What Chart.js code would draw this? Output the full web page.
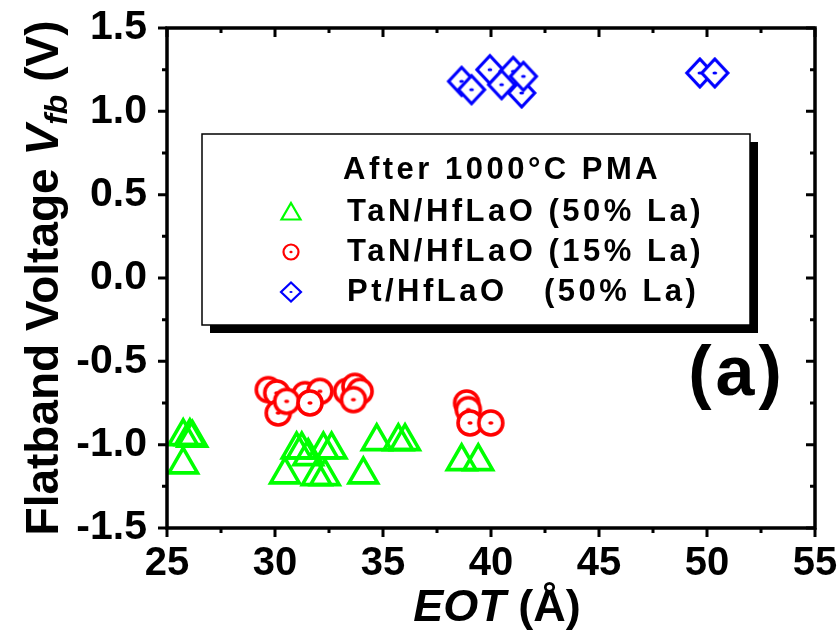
<!DOCTYPE html>
<html><head><meta charset="utf-8">
<script src="https://cdn.jsdelivr.net/npm/chart.js@4/dist/chart.umd.min.js"></script>
<style>html,body{margin:0;padding:0;background:#fff;}#wrap{width:840px;height:635px;}</style>
</head><body><div id="wrap"><canvas id="c" width="840" height="635"></canvas></div>
<script>
// ---- data ----
const xTicks = [25, 30, 35, 40, 45, 50, 55];
const xMinorTicks = [27.5, 32.5, 37.5, 42.5, 47.5, 52.5];
const yTicks = [-1.5, -1.0, -0.5, 0.0, 0.5, 1.0, 1.5];
const yMinorTicks = [-1.25, -0.75, -0.25, 0.25, 0.75, 1.25];
const legendTitle = "After 1000\u00B0C PMA";
const seriesLabels = ["TaN/HfLaO (50% La)", "TaN/HfLaO (15% La)", "Pt/HfLaO   (50% La)"];
const xTitle = ["EOT", " (\u00C5)"];
const yTitle = ["Flatband Voltage ", "V", "fb", " (V)"];
const panelLabel = "(a)";

const greenEOT = [25.75, 26.06, 26.17, 25.75, 31.00, 31.24, 31.54, 32.24, 32.62, 30.46, 31.93, 32.31, 34.09, 34.71, 35.71, 36.02, 38.64, 39.41];
const greenVfb = [-0.95, -0.95, -0.96, -1.12, -1.03, -1.03, -1.07, -1.03, -1.03, -1.18, -1.19, -1.19, -1.18, -0.98, -0.98, -0.98, -1.10, -1.10];

const redEOT = [29.69, 30.08, 30.15, 31.39, 32.08, 33.32, 33.70, 33.94, 30.54, 31.62, 33.63, 38.87, 38.95, 39.03, 39.99];
const redVfb = [-0.67, -0.69, -0.81, -0.70, -0.68, -0.68, -0.65, -0.68, -0.74, -0.75, -0.73, -0.75, -0.79, -0.87, -0.87];

const blueEOT = [38.64, 39.95, 41.03, 40.49, 41.42, 39.10, 41.50, 49.67, 50.36];
const blueVfb = [1.18, 1.25, 1.24, 1.16, 1.11, 1.13, 1.21, 1.23, 1.23];

// ---- styles ----
const GREEN = '#00ff00', RED = '#ff0000', BLUE = '#0000ff';
const FONT = "'Liberation Sans', Arial, Helvetica, sans-serif";

function pathTriangle(ctx, x, y, r) {
  ctx.beginPath();
  for (let i = 0; i < 3; i++) {
    const a = i * 2 * Math.PI / 3;
    const px = x + Math.sin(a) * r, py = y - Math.cos(a) * r;
    if (i === 0) ctx.moveTo(px, py); else ctx.lineTo(px, py);
  }
  ctx.closePath();
}
function drawCircleDot(ctx, x, y, r, lw, dotW, dotH) {
  ctx.beginPath(); ctx.arc(x, y, r, 0, Math.PI * 2);
  ctx.fillStyle = '#fff'; ctx.fill();
  ctx.lineWidth = lw; ctx.strokeStyle = RED; ctx.stroke();
  ctx.beginPath(); ctx.ellipse(x, y, dotW, dotH, 0, 0, Math.PI * 2);
  ctx.fillStyle = RED; ctx.fill();
}
function drawDiamondDot(ctx, x, y, rx, ry, lw, dotW, dotH) {
  ctx.beginPath();
  ctx.moveTo(x, y - ry); ctx.lineTo(x + rx, y); ctx.lineTo(x, y + ry); ctx.lineTo(x - rx, y);
  ctx.closePath();
  ctx.fillStyle = '#fff'; ctx.fill();
  ctx.lineWidth = lw; ctx.strokeStyle = BLUE; ctx.lineJoin = 'miter'; ctx.stroke();
  ctx.beginPath(); ctx.ellipse(x, y, dotW, dotH, 0, 0, Math.PI * 2);
  ctx.fillStyle = BLUE; ctx.fill();
}
function makeCanvas(size, fn) {
  const c = document.createElement('canvas');
  c.width = size; c.height = size;
  fn(c.getContext('2d'), size / 2);
  return c;
}
const circleMarker = makeCanvas(34, (ctx, m) => drawCircleDot(ctx, m, m, 12, 3.6, 2.6, 1.8));
const diamondMarker = makeCanvas(38, (ctx, m) => drawDiamondDot(ctx, m, m, 13, 14, 3.2, 2.4, 1.6));

// ---- plugin: frame, ticks, legend, titles ----
const decor = {
  id: 'decor',
  afterDatasetsDraw(chart) {
    const { ctx, chartArea: a, scales: { x, y } } = chart;
    ctx.save();
    ctx.strokeStyle = '#000';
    ctx.lineWidth = 3.5;
    ctx.strokeRect(a.left, a.top, a.right - a.left, a.bottom - a.top);
    ctx.lineWidth = 3;
    ctx.beginPath();
    const MJ = 9, MN = 5;
    xTicks.forEach(v => { const p = x.getPixelForValue(v);
      ctx.moveTo(p, a.bottom); ctx.lineTo(p, a.bottom + MJ);
      ctx.moveTo(p, a.top); ctx.lineTo(p, a.top + MJ); });
    xMinorTicks.forEach(v => { const p = x.getPixelForValue(v);
      ctx.moveTo(p, a.bottom); ctx.lineTo(p, a.bottom + MN);
      ctx.moveTo(p, a.top); ctx.lineTo(p, a.top + MN); });
    yTicks.forEach(v => { const p = y.getPixelForValue(v);
      ctx.moveTo(a.left, p); ctx.lineTo(a.left - MJ, p);
      ctx.moveTo(a.right, p); ctx.lineTo(a.right - MJ, p); });
    yMinorTicks.forEach(v => { const p = y.getPixelForValue(v);
      ctx.moveTo(a.left, p); ctx.lineTo(a.left - MN, p);
      ctx.moveTo(a.right, p); ctx.lineTo(a.right - MN, p); });
    ctx.stroke();

    // legend box
    const L = 202, T = 134, R = 750, B = 325;
    ctx.fillStyle = '#000';
    ctx.fillRect(L + 8, T + 8, R - L, B - T);
    ctx.fillStyle = '#fff';
    ctx.fillRect(L, T, R - L, B - T);
    ctx.lineWidth = 1.5; ctx.strokeStyle = '#000';
    ctx.strokeRect(L, T, R - L, B - T);

    ctx.fillStyle = '#000';
    ctx.font = 'bold 31px ' + FONT;
    ctx.letterSpacing = '3.5px';
    ctx.textBaseline = 'middle';
    ctx.textAlign = 'left';
    ctx.fillText(legendTitle, 343, 170);
    const rows = [212, 252, 292];
    const mx = 291;
    ctx.lineWidth = 2.2; ctx.strokeStyle = GREEN;
    pathTriangle(ctx, mx, rows[0] + 2, 11); ctx.stroke();
    drawCircleDot(ctx, mx, rows[1], 7.5, 2.2, 1.6, 1.2);
    drawDiamondDot(ctx, mx, rows[2], 10, 9.5, 2.2, 1.6, 1.1);
    ctx.fillStyle = '#000';
    seriesLabels.forEach((t, i) => ctx.fillText(t, 347, rows[i]));
    ctx.restore();
  },
  afterDraw(chart) {
    const ctx = chart.ctx;
    ctx.save();
    ctx.fillStyle = '#000';
    ctx.textBaseline = 'alphabetic';
    ctx.textAlign = 'left';
    const big = 'bold 46px ' + FONT, bigI = 'italic bold 46px ' + FONT, sub = 'italic bold 32px ' + FONT;
    const parts = [[yTitle[0], big, 0], [yTitle[1], bigI, 0], [yTitle[2], sub, 9], [yTitle[3], big, 0]];
    let tot = 0;
    parts.forEach(p => { ctx.font = p[1]; tot += ctx.measureText(p[0]).width; });
    ctx.translate(58, 278);
    ctx.rotate(-Math.PI / 2);
    let cx = -tot / 2;
    parts.forEach(p => { ctx.font = p[1]; ctx.fillText(p[0], cx, p[2]); cx += ctx.measureText(p[0]).width; });
    ctx.setTransform(1, 0, 0, 1, 0, 0);
    const xbig = 'bold 45px ' + FONT, xbigI = 'italic bold 45px ' + FONT;
    const xp = [[xTitle[0], xbigI], [xTitle[1], xbig]];
    tot = 0;
    xp.forEach(p => { ctx.font = p[1]; tot += ctx.measureText(p[0]).width; });
    cx = 497 - tot / 2;
    xp.forEach(p => { ctx.font = p[1]; ctx.fillText(p[0], cx, 621); cx += ctx.measureText(p[0]).width; });
    ctx.font = 'bold 70px ' + FONT;
    ctx.letterSpacing = '4px';
    ctx.textAlign = 'center';
    ctx.fillText(panelLabel, 737, 395);
    ctx.restore();
  }
};

const toPts = (xs, ys) => xs.map((v, i) => ({ x: v, y: ys[i] }));

new Chart(document.getElementById('c'), {
  type: 'scatter',
  data: {
    datasets: [
      { label: seriesLabels[0], data: toPts(greenEOT, greenVfb), pointStyle: 'triangle',
        pointRadius: 16.5, pointBorderWidth: 3.6, pointBorderColor: GREEN, pointBackgroundColor: 'rgba(0,0,0,0)' },
      { label: seriesLabels[1], data: toPts(redEOT, redVfb), pointStyle: circleMarker, pointRadius: 13 },
      { label: seriesLabels[2], data: toPts(blueEOT, blueVfb), pointStyle: diamondMarker, pointRadius: 14 }
    ]
  },
  options: {
    responsive: false,
    animation: false,
    devicePixelRatio: 1,
    layout: { padding: { top: 28, right: 25, left: 0, bottom: 0 } },
    plugins: { legend: { display: false }, tooltip: { enabled: false } },
    scales: {
      x: {
        type: 'linear', min: 25, max: 55,
        afterBuildTicks: s => { s.ticks = xTicks.map(v => ({ value: v })); },
        afterFit: s => { s.height = 107; s.paddingLeft = 0; s.paddingRight = 0; },
        grid: { display: false, drawTicks: false },
        border: { display: false },
        ticks: { color: '#000', padding: 12, font: { family: FONT, weight: 'bold', size: 40 },
                 maxRotation: 0, autoSkip: false, callback: v => String(v) }
      },
      y: {
        type: 'linear', min: -1.5, max: 1.5,
        afterBuildTicks: s => { s.ticks = yTicks.map(v => ({ value: v })); },
        afterFit: s => { s.width = 167; s.paddingTop = 0; s.paddingBottom = 0; },
        grid: { display: false, drawTicks: false },
        border: { display: false },
        ticks: { color: '#000', padding: 20, font: { family: FONT, weight: 'bold', size: 41 },
                 autoSkip: false, callback: v => Number(v).toFixed(1) }
      }
    }
  },
  plugins: [decor]
});
</script>
</body></html>
